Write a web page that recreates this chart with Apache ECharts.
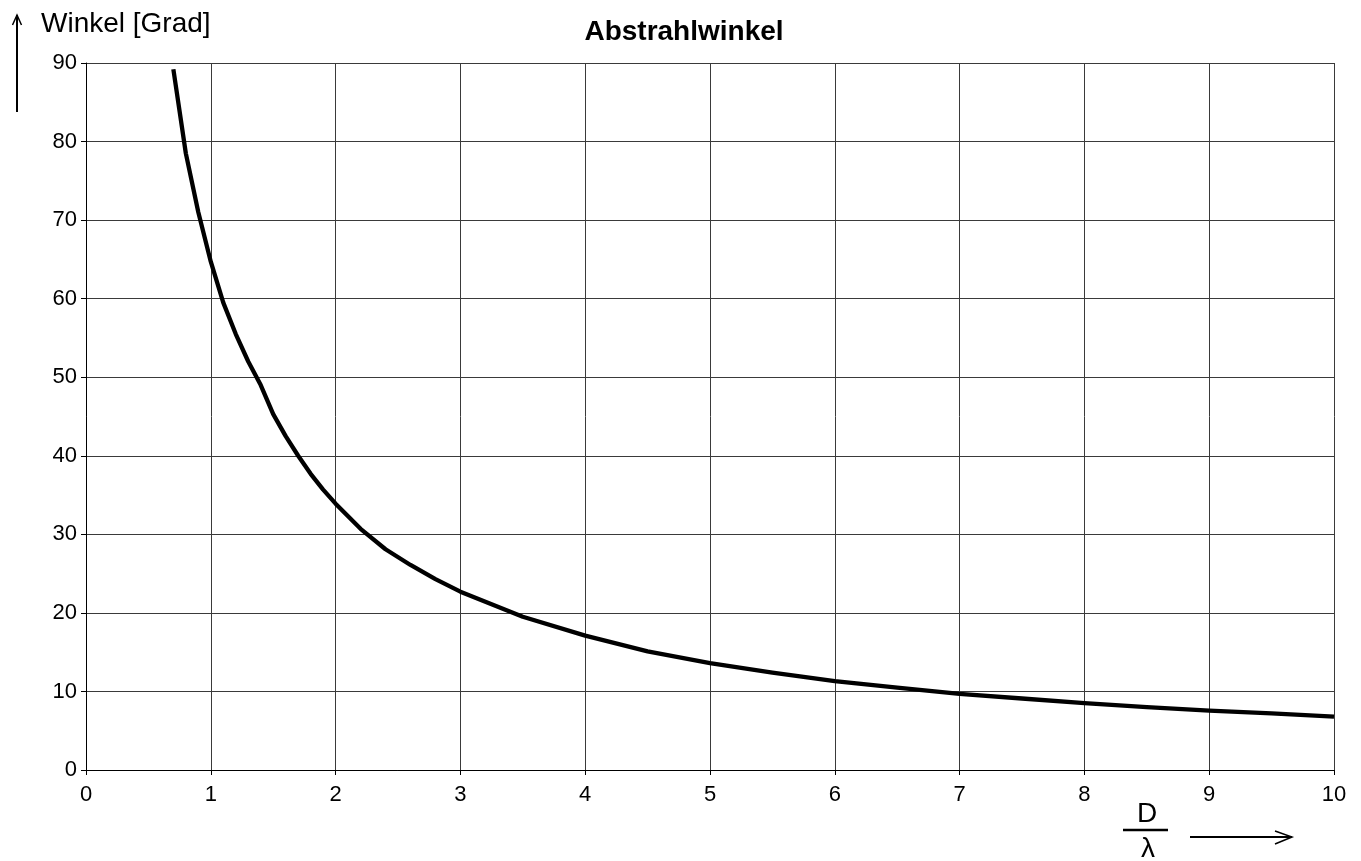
<!DOCTYPE html>
<html>
<head>
<meta charset="utf-8">
<title>Abstrahlwinkel</title>
<script src="https://cdn.jsdelivr.net/npm/echarts@6/dist/echarts.min.js"></script>
<style>
  html, body { margin: 0; padding: 0; background: #fff; }
  #chart { width: 1361px; height: 861px; }
</style>
</head>
<body>
<div id="chart"></div>
<script>
// Verhältnis Durchmesser / Wellenlänge
const dLambda = [0.7, 0.8, 0.9, 1.0, 1.1, 1.2, 1.3, 1.4, 1.5, 1.6, 1.7, 1.8, 1.9, 2.0,
                 2.2, 2.4, 2.6, 2.8, 3.0, 3.5, 4.0, 4.5, 5.0, 5.5, 6.0, 6.5, 7.0, 7.5,
                 8.0, 8.5, 9.0, 9.5, 10.0];
// Abstrahlwinkel in Grad
const winkel = [89.2, 78.5, 71.0, 64.7, 59.5, 55.5, 52.0, 49.0, 45.3, 42.5, 40.0, 37.7, 35.7, 33.9,
                30.7, 28.1, 26.1, 24.3, 22.7, 19.5, 17.1, 15.1, 13.6, 12.4, 11.3, 10.5, 9.7, 9.1,
                8.5, 8.0, 7.55, 7.2, 6.8];

const titleText = 'Abstrahlwinkel';
const yName = 'Winkel [Grad]';

const FONT = '"Liberation Sans", Arial, sans-serif';
const GRID_COLOR = '#3a3a3a';

const chart = echarts.init(document.getElementById('chart'), null, { renderer: 'canvas' });

const points = dLambda.map((x, i) => [x, winkel[i]]);

chart.setOption({
  animation: false,
  backgroundColor: '#fff',
  title: {
    text: titleText,
    left: 679,
    top: 13,
    textAlign: 'center',
    textStyle: { fontFamily: FONT, fontSize: 28, fontWeight: 'bold', color: '#000' }
  },
  grid: { left: 86, right: 27, top: 63, bottom: 91 },
  xAxis: {
    type: 'value',
    min: 0, max: 10, interval: 1,
    axisLine: { show: true, onZero: false, lineStyle: { color: '#000', width: 1 } },
    axisTick: { show: true, length: 5, inside: false, lineStyle: { color: '#000' } },
    axisLabel: { fontFamily: FONT, fontSize: 22, color: '#000', margin: 14 },
    splitLine: { show: true, lineStyle: { color: GRID_COLOR, width: 1 } }
  },
  yAxis: {
    type: 'value',
    min: 0, max: 90, interval: 10,
    axisLine: { show: true, lineStyle: { color: '#000', width: 1 } },
    axisTick: { show: true, length: 5, inside: false, lineStyle: { color: '#000' } },
    axisLabel: { fontFamily: FONT, fontSize: 22, color: '#000', margin: 9 },
    splitLine: { show: true, lineStyle: { color: GRID_COLOR, width: 1 } }
  },
  series: [{
    type: 'line',
    data: points,
    smooth: false,
    showSymbol: false,
    lineStyle: { color: '#000', width: 4.3, join: 'round', cap: 'butt' },
    clip: false
  }],
  graphic: [
    // Achsenbeschriftung oben links mit Pfeil
    { type: 'line', shape: { x1: 17, y1: 112, x2: 17, y2: 15 }, style: { stroke: '#000', lineWidth: 2 } },
    { type: 'polyline', shape: { points: [[12.5, 25], [17, 15], [21.5, 25]] }, style: { stroke: '#000', lineWidth: 1.5, fill: null } },
    { type: 'text', x: 41, y: 24, style: { text: yName, font: '28px ' + FONT, fill: '#000', verticalAlign: 'middle' } },
    // D / λ unten rechts mit Pfeil
    { type: 'text', x: 1147, y: 814, style: { text: 'D', font: '28px ' + FONT, fill: '#000', align: 'center', verticalAlign: 'middle' } },
    { type: 'line', shape: { x1: 1123, y1: 830, x2: 1168, y2: 830 }, style: { stroke: '#000', lineWidth: 2.5 } },
    { type: 'text', x: 1148, y: 849, style: { text: 'λ', font: '28px ' + FONT, fill: '#000', align: 'center', verticalAlign: 'middle' } },
    { type: 'line', shape: { x1: 1190, y1: 837, x2: 1292, y2: 837 }, style: { stroke: '#000', lineWidth: 2 } },
    { type: 'polyline', shape: { points: [[1275, 831], [1292, 837], [1275, 844]] }, style: { stroke: '#000', lineWidth: 1.5, fill: null } }
  ]
});
</script>
</body>
</html>
